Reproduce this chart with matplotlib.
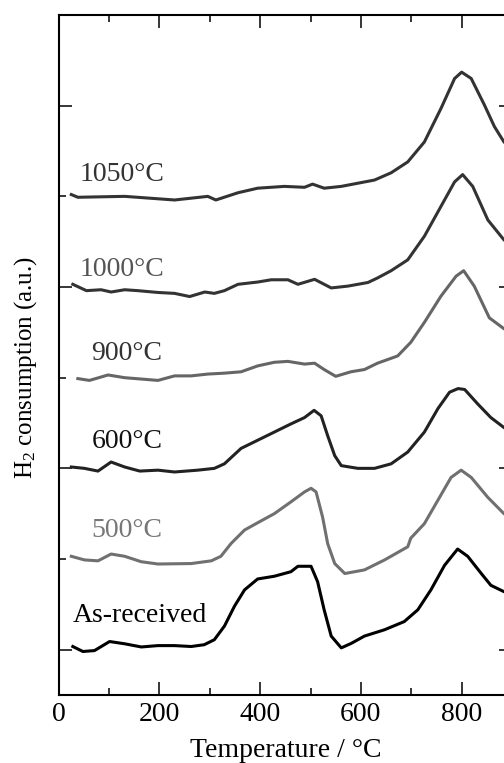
import matplotlib.pyplot as plt
from matplotlib.ticker import MultipleLocator

plt.rcParams['font.family'] = ['Liberation Serif', 'DejaVu Serif']
plt.rcParams['mathtext.fontset'] = 'custom'
plt.rcParams['mathtext.rm'] = 'Liberation Serif'
plt.rcParams['mathtext.it'] = 'Liberation Serif:italic'

# TPR curves, temperature in degC, signal above each curve's own baseline
t_asrec = [28, 48, 71, 101, 131, 164, 197, 230, 263, 289, 309, 329, 349, 369, 395, 428,
           461, 475, 501, 514, 527, 541, 561, 581, 607, 647, 686, 713, 739, 766, 792,
           812, 839, 858, 884, 900]
h_asrec = [0.035, -0.02, -0.01, 0.09, 0.065, 0.03, 0.045, 0.045, 0.035, 0.055, 0.11,
           0.26, 0.48, 0.66, 0.78, 0.81, 0.86, 0.92, 0.92, 0.75, 0.44, 0.15, 0.02, 0.07,
           0.15, 0.22, 0.31, 0.44, 0.66, 0.93, 1.11, 1.03, 0.84, 0.71, 0.64, 0.61]

t_500 = [25, 51, 78, 104, 131, 164, 197, 263, 303, 322, 342, 369, 395, 428, 461, 488,
         501, 511, 524, 534, 548, 568, 607, 647, 693, 699, 726, 753, 779, 799, 819, 852,
         884, 900]
h_500 = [0.03, -0.01, -0.02, 0.055, 0.03, -0.03, -0.055, -0.05, -0.02, 0.03, 0.17, 0.32,
         0.40, 0.50, 0.63, 0.74, 0.78, 0.74, 0.46, 0.17, -0.05, -0.16, -0.12, -0.01,
         0.135, 0.23, 0.39, 0.65, 0.90, 0.98, 0.90, 0.68, 0.50, 0.44]

t_600 = [25, 51, 78, 104, 131, 161, 197, 230, 276, 309, 329, 362, 395, 428, 461, 488,
         507, 521, 534, 548, 561, 594, 627, 660, 693, 726, 753, 776, 793, 806, 832, 858,
         884, 900]
h_600 = [0.015, 0.0, -0.03, 0.07, 0.015, -0.03, -0.02, -0.04, -0.02, 0.0, 0.05, 0.22,
         0.31, 0.40, 0.49, 0.56, 0.64, 0.58, 0.36, 0.14, 0.03, 0.0, 0.0, 0.05, 0.18, 0.40,
         0.66, 0.84, 0.88, 0.87, 0.71, 0.56, 0.45, 0.40]

t_900 = [38, 61, 98, 131, 164, 197, 230, 263, 296, 329, 362, 395, 428, 455, 488, 508,
         527, 550, 580, 607, 633, 673, 699, 726, 759, 789, 804, 825, 855, 884, 900]
h_900 = [-0.01, -0.03, 0.03, 0.0, -0.015, -0.03, 0.02, 0.02, 0.04, 0.05, 0.065, 0.13,
         0.17, 0.18, 0.15, 0.16, 0.09, 0.015, 0.065, 0.09, 0.16, 0.24, 0.39, 0.61, 0.90,
         1.12, 1.18, 1.01, 0.66, 0.54, 0.50]

t_1000 = [28, 55, 84, 104, 131, 157, 197, 230, 260, 290, 309, 329, 356, 395, 422, 455,
          475, 508, 541, 574, 614, 633, 660, 693, 726, 759, 786, 802, 822, 852, 884, 900]
h_1000 = [0.03, -0.04, -0.03, -0.055, -0.03, -0.04, -0.06, -0.07, -0.105, -0.055, -0.07,
          -0.04, 0.03, 0.055, 0.08, 0.08, 0.03, 0.085, -0.01, 0.01, 0.05, 0.10, 0.18,
          0.30, 0.56, 0.89, 1.16, 1.24, 1.11, 0.74, 0.52, 0.45]

t_1050 = [25, 38, 131, 230, 296, 312, 356, 395, 448, 488, 504, 527, 561, 627, 660, 693,
          726, 759, 786, 800, 819, 845, 865, 884, 900]
h_1050 = [0.02, -0.01, 0.0, -0.04, 0.0, -0.04, 0.04, 0.09, 0.11, 0.10, 0.135, 0.09, 0.11,
          0.18, 0.26, 0.38, 0.60, 0.97, 1.30, 1.37, 1.30, 1.01, 0.77, 0.60, 0.52]

names = ['As-received', '500°C', '600°C', '900°C', '1000°C', '1050°C']
offsets = [0, 1, 2, 3, 4, 5]
line_colors = ['#000000', '#707070', '#222222', '#666666', '#333333', '#333333']
text_colors = ['#000000', '#777777', '#111111', '#333333', '#555555', '#333333']
label_x = [28, 65, 65, 65, 42, 42]
label_y = [0.30, 1.24, 2.23, 3.19, 4.12, 5.165]

temps = [t_asrec, t_500, t_600, t_900, t_1000, t_1050]
signals = [h_asrec, h_500, h_600, h_900, h_1000, h_1050]

fig = plt.figure(figsize=(5.04, 7.63), dpi=100)
ax = fig.add_axes([0.1165, 0.0891, 0.8994, 0.8912])

for t, h, off, c in zip(temps, signals, offsets, line_colors):
    ax.plot(t, [v + off for v in h], color=c, lw=2.2)

for name, x, y, c in zip(names, label_x, label_y, text_colors):
    ax.text(x, y, name, color=c, fontsize=20, va='baseline', ha='left')

ax.set_xlim(0, 900)
ax.set_ylim(-0.5, 7)
ax.xaxis.set_major_locator(MultipleLocator(200))
ax.xaxis.set_minor_locator(MultipleLocator(100))
ax.yaxis.set_major_locator(MultipleLocator(2))
ax.yaxis.set_minor_locator(MultipleLocator(1))
ax.tick_params(which='both', direction='in', top=True, right=True, labelsize=20,
               width=1.1, pad=5)
ax.tick_params(which='major', length=9.5)
ax.tick_params(which='minor', length=5)
ax.set_yticklabels([])
for s in ax.spines.values():
    s.set_linewidth(1.5)

ax.set_xlabel('Temperature / °C', fontsize=20, labelpad=8)
ax.set_ylabel('H$_2$ consumption (a.u.)', fontsize=18)
ax.yaxis.set_label_coords(-0.044, 0.482)

fig.savefig('out.png', dpi=100)
